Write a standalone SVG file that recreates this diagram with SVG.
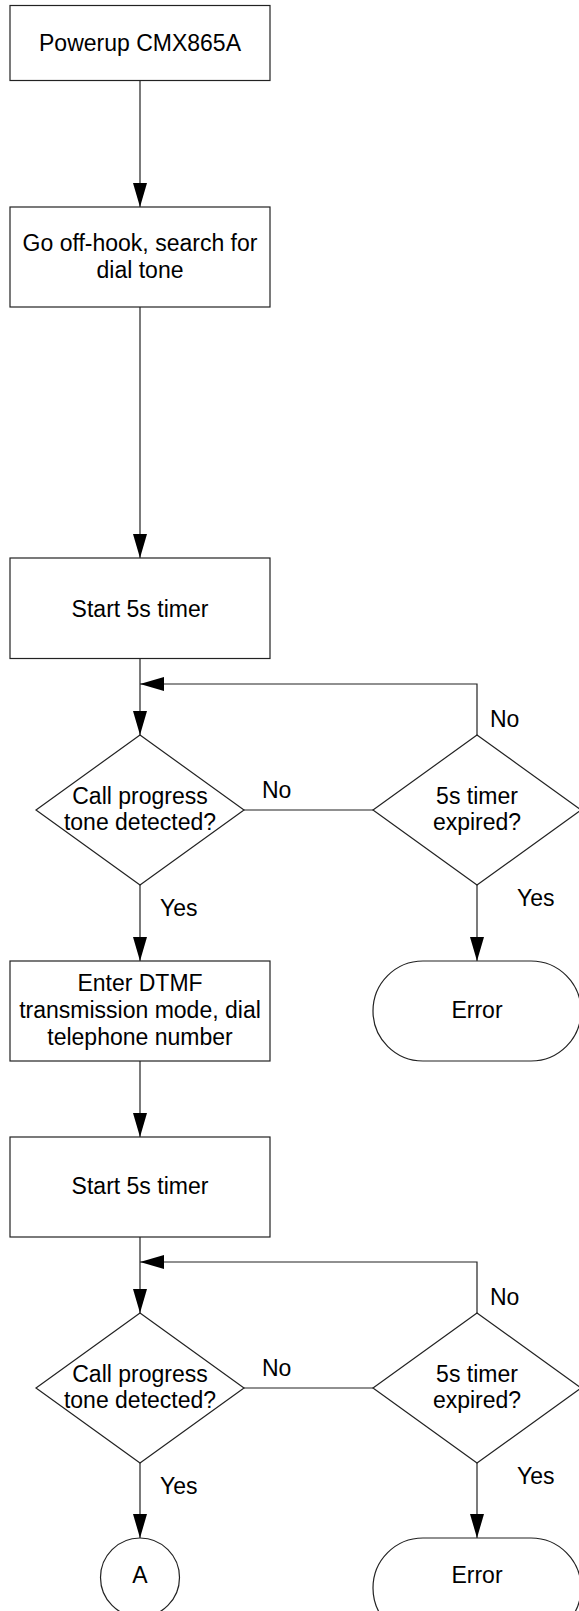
<svg xmlns="http://www.w3.org/2000/svg" width="579" height="1611" viewBox="0 0 579 1611">
<style>
.s{fill:#fff;stroke:#222;stroke-width:1.2}
.c{fill:none;stroke:#222;stroke-width:1.2}
text{font-family:"Liberation Sans",Arial,sans-serif;font-size:23px;fill:#000}
.m{text-anchor:middle}
</style>
<defs>
<marker id="ah" viewBox="0 0 24 14" refX="24" refY="7" markerWidth="24" markerHeight="14" markerUnits="userSpaceOnUse" orient="auto">
<path d="M0,0 L24,7 L0,14 Z" fill="#000"/>
</marker>
</defs>
<rect width="579" height="1611" fill="#fff"/>
<g id="connectors">
<line class="c" x1="140" y1="80.5" x2="140" y2="207" marker-end="url(#ah)"/>
<line class="c" x1="140" y1="307" x2="140" y2="558" marker-end="url(#ah)"/>
<line class="c" x1="140" y1="658.5" x2="140" y2="735" marker-end="url(#ah)"/>
<polyline class="c" points="477,735 477,684 140,684" marker-end="url(#ah)"/>
<line class="c" x1="244" y1="810" x2="373" y2="810"/>
<line class="c" x1="140" y1="885" x2="140" y2="961" marker-end="url(#ah)"/>
<line class="c" x1="477" y1="885" x2="477" y2="961" marker-end="url(#ah)"/>
<line class="c" x1="140" y1="1061" x2="140" y2="1137" marker-end="url(#ah)"/>
<line class="c" x1="140" y1="1237" x2="140" y2="1313" marker-end="url(#ah)"/>
<polyline class="c" points="477,1313 477,1262 140,1262" marker-end="url(#ah)"/>
<line class="c" x1="244" y1="1388" x2="373" y2="1388"/>
<line class="c" x1="140" y1="1463" x2="140" y2="1538" marker-end="url(#ah)"/>
<line class="c" x1="477" y1="1463" x2="477" y2="1538" marker-end="url(#ah)"/>
<text x="262" y="798">No</text>
<text x="490" y="727">No</text>
<text x="160" y="916">Yes</text>
<text x="517" y="906">Yes</text>
<text x="262" y="1376">No</text>
<text x="490" y="1305">No</text>
<text x="160" y="1494">Yes</text>
<text x="517" y="1484">Yes</text>
</g>
<g id="n1">
<rect class="s" x="10" y="5.5" width="260" height="75"/>
<text class="m" x="140" y="51">Powerup CMX865A</text>
</g>
<g id="n2">
<rect class="s" x="10" y="207" width="260" height="100"/>
<text class="m" x="140" y="251">Go off-hook, search for</text>
<text class="m" x="140" y="278">dial tone</text>
</g>
<g id="n3">
<rect class="s" x="10" y="558" width="260" height="100.5"/>
<text class="m" x="140" y="617">Start 5s timer</text>
</g>
<g id="d1">
<polygon class="s" points="140,735 244,810 140,885 36,810"/>
<text class="m" x="140" y="804">Call progress</text>
<text class="m" x="140" y="830">tone detected?</text>
</g>
<g id="d2">
<polygon class="s" points="477,735 581,810 477,885 373,810"/>
<text class="m" x="477" y="804">5s timer</text>
<text class="m" x="477" y="830">expired?</text>
</g>
<g id="n4">
<rect class="s" x="10" y="961" width="260" height="100"/>
<text class="m" x="140" y="991">Enter DTMF</text>
<text class="m" x="140" y="1018">transmission mode, dial</text>
<text class="m" x="140" y="1045">telephone number</text>
</g>
<g id="e1">
<rect class="s" x="373" y="961" width="208" height="100" rx="50" ry="50"/>
<text class="m" x="477" y="1018">Error</text>
</g>
<g id="n5">
<rect class="s" x="10" y="1137" width="260" height="100"/>
<text class="m" x="140" y="1194">Start 5s timer</text>
</g>
<g id="d3">
<polygon class="s" points="140,1313 244,1388 140,1463 36,1388"/>
<text class="m" x="140" y="1382">Call progress</text>
<text class="m" x="140" y="1408">tone detected?</text>
</g>
<g id="d4">
<polygon class="s" points="477,1313 581,1388 477,1463 373,1388"/>
<text class="m" x="477" y="1382">5s timer</text>
<text class="m" x="477" y="1408">expired?</text>
</g>
<g id="a">
<circle class="s" cx="140" cy="1577.5" r="39.5"/>
<text class="m" x="140" y="1583">A</text>
</g>
<g id="e2">
<rect class="s" x="373" y="1538" width="208" height="100" rx="50" ry="50"/>
<text class="m" x="477" y="1583">Error</text>
</g>
</svg>
